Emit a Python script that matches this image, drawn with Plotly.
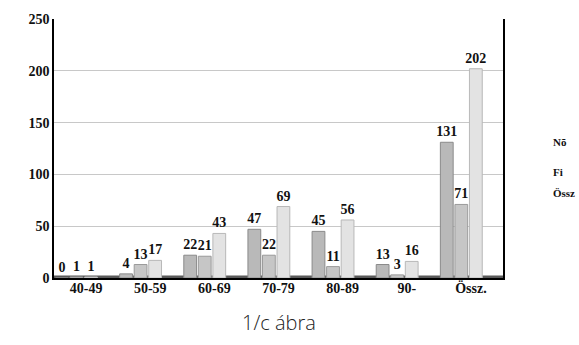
import plotly.graph_objects as go

categories = ["40-49", "50-59", "60-69", "70-79", "80-89", "90-", "Össz."]
series_names = ["Nõ", "Fi", "Össz"]
no_vals = [0, 4, 22, 47, 45, 13, 131]
fi_vals = [1, 13, 21, 22, 11, 3, 71]
ossz_vals = [1, 17, 43, 69, 56, 16, 202]
y_ticks = [0, 50, 100, 150, 200, 250]

colors = ["#b9b9b9", "#c6c6c6", "#e3e3e3"]
lines = ["#8a8a8a", "#9a9a9a", "#b8b8b8"]
serif_bold = dict(family="Liberation Serif", size=14, color="#111", weight="bold")

fig = go.Figure()
for name, vals, c, lc in zip(series_names, [no_vals, fi_vals, ossz_vals], colors, lines):
    fig.add_trace(go.Bar(
        x=list(range(len(categories))), y=vals, name=name,
        marker=dict(color=c, line=dict(color=lc, width=1)),
        text=vals, textposition="outside", textfont=serif_bold,
        constraintext="none", cliponaxis=False, showlegend=False,
    ))

# dark floor band
fig.add_shape(type="rect", xref="x domain", yref="y", x0=0, x1=1, y0=0, y1=2.5,
              fillcolor="#5a5a5a", line=dict(width=0), layer="below")

fig.update_layout(
    width=579, height=345,
    margin=dict(l=54, r=76, t=15, b=67),
    paper_bgcolor="white", plot_bgcolor="white",
    barmode="group", bargap=0.32, bargroupgap=0.12,
    xaxis=dict(range=[-0.35, 6.65], showticklabels=False, showline=True,
               linecolor="#000", linewidth=1.5, showgrid=False, zeroline=False),
    xaxis2=dict(overlaying="x", anchor="y", side="bottom", range=[-0.5, 6.5],
                domain=[0, 1], tickmode="array", tickvals=list(range(len(categories))),
                ticktext=categories, tickfont=serif_bold, showgrid=False,
                showline=False, zeroline=False, ticks=""),
    yaxis=dict(range=[0, 250], tickvals=y_ticks, tickfont=serif_bold,
               showgrid=True, gridcolor="#c8c8c8", gridwidth=1,
               showline=True, linecolor="#000", linewidth=1.5, mirror=True,
               zeroline=False, ticks="", ticklen=4),
)

# hidden trace to activate xaxis2 tick labels
fig.add_trace(go.Scatter(x=[0], y=[0], xaxis="x2", mode="markers",
                         marker=dict(opacity=0), showlegend=False, hoverinfo="skip"))

# legend texts without swatches
legend_y = [0.525, 0.41, 0.297]
for name, ly in zip(series_names, legend_y):
    fig.add_annotation(x=1.108, y=ly, xref="paper", yref="paper",
                       text=name, showarrow=False, xanchor="left",
                       font=dict(family="Liberation Serif", size=11, color="#111", weight="bold"))

fig.add_annotation(x=0.5, y=-0.17, xref="paper", yref="paper", yanchor="middle",
                   text="1/c ábra", showarrow=False,
                   font=dict(family="Open Sans", size=20, color="#222", weight=300))

fig.write_html("out.html")
